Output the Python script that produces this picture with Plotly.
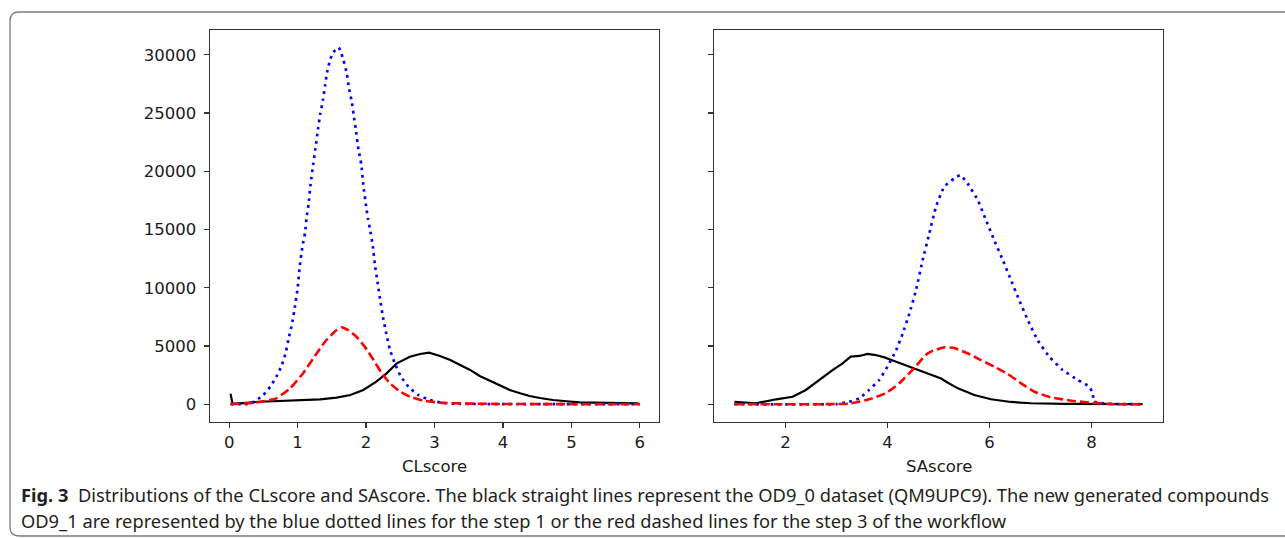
import plotly.graph_objects as go

W, H = 1285, 538

# ---------------- data ----------------
# Left panel: CLscore
cl_blue_x = [0.02, 0.30, 0.40, 0.50, 0.60, 0.69, 0.77, 0.83, 0.87, 0.92, 0.96, 1.00, 1.03, 1.07,
             1.11, 1.13, 1.16, 1.19, 1.23, 1.26, 1.30, 1.33, 1.37, 1.40, 1.43, 1.48, 1.52, 1.60,
             1.64, 1.67, 1.72, 1.75, 1.79, 1.82, 1.85, 1.89, 1.93, 1.96, 2.00, 2.03, 2.06, 2.10,
             2.13, 2.17, 2.21, 2.25, 2.30, 2.35, 2.42, 2.51, 2.62, 2.76, 2.93, 3.10, 3.30, 4.0, 5.0, 6.0]
cl_blue_y = [0, 30, 360, 790, 1500, 2360, 3360, 4510, 5660, 6940, 8370, 9950, 11800, 13520,
             14780, 15960, 17180, 18930, 20680, 21960, 23700, 24900, 26110, 27310, 28490, 29660, 30200, 30630,
             30120, 29520, 28370, 27170, 26000, 24800, 23600, 21820, 20620, 18820, 17010, 15870, 14950, 13520,
             11950, 10380, 8800, 7370, 5940, 4650, 3510, 2360, 1500, 790, 360, 120, 40, 0, 0, 0]

cl_red_x = [0.02, 0.35, 0.50, 0.69, 0.89, 1.08, 1.28, 1.42, 1.57, 1.64, 1.74, 1.86, 1.98, 2.11,
            2.23, 2.35, 2.50, 2.64, 2.84, 3.08, 3.50, 4.0, 5.0, 6.0]
cl_red_y = [0, 100, 250, 500, 1360, 2650, 4370, 5510, 6370, 6600, 6370, 5790, 4940, 3790,
            2650, 1790, 1070, 640, 300, 130, 50, 20, 0, 0]

cl_black_x = [0.02, 0.05, 0.45, 0.94, 1.33, 1.57, 1.77, 1.96, 2.15, 2.30, 2.45, 2.64, 2.79, 2.92,
              3.08, 3.23, 3.37, 3.52, 3.66, 3.81, 3.96, 4.10, 4.25, 4.39, 4.54, 4.73, 4.93, 5.12,
              5.32, 5.51, 5.71, 5.98]
cl_black_y = [900, 20, 210, 300, 420, 560, 790, 1220, 1930, 2650, 3510, 4080, 4310, 4420,
              4140, 3790, 3360, 2940, 2420, 2020, 1560, 1220, 940, 700, 530, 360, 250, 160,
              130, 100, 70, 70]

# Right panel: SAscore
sa_blue_x = [1.0, 3.0, 3.25, 3.45, 3.64, 3.84, 4.00, 4.17, 4.30, 4.43, 4.56, 4.69, 4.82, 4.95,
             5.11, 5.31, 5.43, 5.57, 5.77, 5.93, 6.09, 6.26, 6.42, 6.58, 6.75, 6.94, 7.17, 7.43,
             7.73, 7.96, 8.02, 8.05, 8.25, 8.5, 9.0]
sa_blue_y = [0, 0, 210, 500, 1220, 2080, 3220, 4650, 6080, 7800, 9800, 12380, 14670, 16950,
             18670, 19390, 19670, 18960, 17530, 15810, 14090, 12380, 10660, 8940, 7230, 5510, 4080, 2940,
             2080, 1500, 940, 210, 60, 0, 0]

sa_red_x = [1.0, 3.25, 3.64, 3.97, 4.23, 4.49, 4.75, 4.85, 5.11, 5.31, 5.57, 5.83, 6.09, 6.36,
            6.62, 6.88, 7.20, 7.60, 7.99, 8.45, 9.0]
sa_red_y = [0, 50, 420, 940, 1790, 2940, 4220, 4510, 4880, 4820, 4370, 3790, 3220, 2590,
            1790, 1070, 590, 300, 130, 0, 0]

sa_black_x = [1.00, 1.42, 1.82, 2.14, 2.40, 2.66, 2.93, 3.12, 3.28, 3.45, 3.61, 3.77, 3.94, 4.17,
              4.43, 4.69, 4.85, 5.05, 5.15, 5.38, 5.70, 6.03, 6.42, 6.81, 7.47, 8.12, 9.0]
sa_black_y = [210, 80, 420, 640, 1220, 2080, 2940, 3510, 4080, 4140, 4310, 4220, 4020, 3650,
              3220, 2790, 2510, 2200, 1930, 1360, 790, 420, 190, 80, 20, 0, 0]

y_ticks = [0, 5000, 10000, 15000, 20000, 25000, 30000]
y_ticktext = ["0", "5000", "10000", "15000", "20000", "25000", "30000"]
cl_ticks = [0, 1, 2, 3, 4, 5, 6]
sa_ticks = [2, 4, 6, 8]

caption_1 = ("<b>Fig. 3</b>\u00a0\u00a0Distributions of the CLscore and SAscore. The black straight lines "
             "represent the OD9_0 dataset (QM9UPC9). The new generated compounds")
caption_2 = ("OD9_1 are represented by the blue dotted lines for the step 1 or the red dashed lines "
             "for the step 3 of the workflow")

# ---------------- figure ----------------
def px_x(p):
    return p / W

def px_y(p):
    return 1 - p / H

fig = go.Figure()

BLUE = dict(color="#0000ff", width=2.7, dash="2.7px,4.5px")
RED = dict(color="#ff0000", width=2.6, dash="9px,4px")
BLACK = dict(color="#000000", width=2.2)

fig.add_trace(go.Scatter(x=cl_black_x, y=cl_black_y, mode="lines", line=BLACK, xaxis="x", yaxis="y", showlegend=False))
fig.add_trace(go.Scatter(x=cl_blue_x, y=cl_blue_y, mode="lines", line=dict(**BLUE, shape="spline", smoothing=0.4),
                         xaxis="x", yaxis="y", showlegend=False))
fig.add_trace(go.Scatter(x=cl_red_x, y=cl_red_y, mode="lines", line=dict(**RED, shape="spline", smoothing=0.4),
                         xaxis="x", yaxis="y", showlegend=False))

fig.add_trace(go.Scatter(x=sa_black_x, y=sa_black_y, mode="lines", line=BLACK, xaxis="x2", yaxis="y2", showlegend=False))
fig.add_trace(go.Scatter(x=sa_blue_x, y=sa_blue_y, mode="lines", line=dict(**BLUE, shape="spline", smoothing=0.3),
                         xaxis="x2", yaxis="y2", showlegend=False))
fig.add_trace(go.Scatter(x=sa_red_x, y=sa_red_y, mode="lines", line=dict(**RED, shape="spline", smoothing=0.4),
                         xaxis="x2", yaxis="y2", showlegend=False))

TICKFONT = dict(family="DejaVu Sans", size=16.5, color="#1a1a1a")
axis_common = dict(showgrid=False, zeroline=False, showline=True, mirror=True,
                   linecolor="#333333", linewidth=1.4, ticks="outside", ticklen=5,
                   tickwidth=1.2, tickcolor="#333333", tickfont=TICKFONT)

y_dom = [px_y(422), px_y(30)]
y_range = [-1530, 32130]

fig.update_layout(
    width=W, height=H,
    margin=dict(l=0, r=0, t=0, b=0),
    paper_bgcolor="white", plot_bgcolor="white",
    xaxis=dict(domain=[px_x(210), px_x(659)], range=[-0.28, 6.28], tickvals=cl_ticks,
               anchor="y", **axis_common),
    yaxis=dict(domain=y_dom, range=y_range, tickvals=y_ticks, ticktext=y_ticktext, anchor="x",
               ticklabelstandoff=4, **axis_common),
    xaxis2=dict(domain=[px_x(714), px_x(1163)], range=[0.6, 9.4], tickvals=sa_ticks,
                anchor="y2", **axis_common),
    yaxis2=dict(domain=y_dom, range=y_range, tickvals=y_ticks, anchor="x2",
                matches="y", showticklabels=False, **axis_common),
)

# axis titles
fig.add_annotation(text="CLscore", x=px_x(434.5), y=px_y(466), xref="paper", yref="paper",
                   showarrow=False, xanchor="center", yanchor="middle",
                   font=dict(family="DejaVu Sans", size=16.5, color="#1a1a1a"))
fig.add_annotation(text="SAscore", x=px_x(938.5), y=px_y(466), xref="paper", yref="paper",
                   showarrow=False, xanchor="center", yanchor="middle",
                   font=dict(family="DejaVu Sans", size=16.5, color="#1a1a1a"))

# caption
CAPFONT = dict(family="Noto Sans", size=18.3, color="#231f20")
fig.add_annotation(text=caption_1, x=px_x(19), y=px_y(494), xref="paper", yref="paper",
                   showarrow=False, xanchor="left", yanchor="middle", align="left", font=CAPFONT)
fig.add_annotation(text=caption_2, x=px_x(19), y=px_y(520), xref="paper", yref="paper",
                   showarrow=False, xanchor="left", yanchor="middle", align="left", font=CAPFONT)

# outer rounded frame
r = 9
L, T, B, R = 10, 12, 536, 1300
path = (f"M {px_x(R)},{px_y(T)} L {px_x(L + r)},{px_y(T)} "
        f"Q {px_x(L)},{px_y(T)} {px_x(L)},{px_y(T + r)} "
        f"L {px_x(L)},{px_y(B - r)} Q {px_x(L)},{px_y(B)} {px_x(L + r)},{px_y(B)} "
        f"L {px_x(R)},{px_y(B)}")
fig.add_shape(type="path", path=path, xref="paper", yref="paper",
              line=dict(color="#7a7a7a", width=1.3), layer="below")

fig.write_html("out.html",
               config={"displayModeBar": False, "staticPlot": True},
               post_script="document.body.style.margin='0';document.body.style.overflow='hidden';")
